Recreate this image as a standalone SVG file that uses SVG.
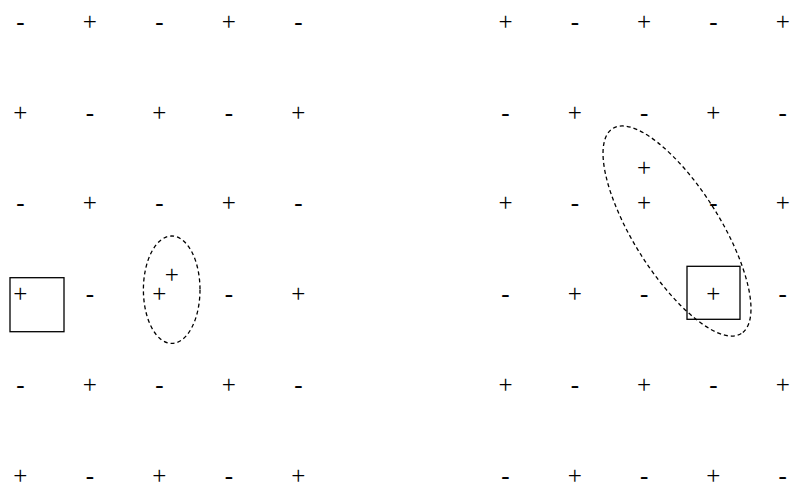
<svg xmlns="http://www.w3.org/2000/svg" width="790" height="484" viewBox="0 0 790 484">
<style>
text{font-family:"Liberation Serif","Times New Roman",serif;font-size:25px;fill:#000;text-anchor:middle}
.box{fill:none;stroke:#000;stroke-width:1.3}
.oval{fill:none;stroke:#000;stroke-width:1.3;stroke-dasharray:4 3}
</style>
<rect width="790" height="484" fill="#fff"/>
<g id="left-grid">
<text x="20.3" y="29.6">-</text><text x="89.8" y="29.6">+</text><text x="159.3" y="29.6">-</text><text x="228.8" y="29.6">+</text><text x="298.3" y="29.6">-</text>
<text x="20.3" y="120.5">+</text><text x="89.8" y="120.5">-</text><text x="159.3" y="120.5">+</text><text x="228.8" y="120.5">-</text><text x="298.3" y="120.5">+</text>
<text x="20.3" y="211.4">-</text><text x="89.8" y="211.4">+</text><text x="159.3" y="211.4">-</text><text x="228.8" y="211.4">+</text><text x="298.3" y="211.4">-</text>
<text x="20.3" y="302.3">+</text><text x="89.8" y="302.3">-</text><text x="159.3" y="302.3">+</text><text x="228.8" y="302.3">-</text><text x="298.3" y="302.3">+</text>
<text x="20.3" y="393.2">-</text><text x="89.8" y="393.2">+</text><text x="159.3" y="393.2">-</text><text x="228.8" y="393.2">+</text><text x="298.3" y="393.2">-</text>
<text x="20.3" y="483.5">+</text><text x="89.8" y="483.5">-</text><text x="159.3" y="483.5">+</text><text x="228.8" y="483.5">-</text><text x="298.3" y="483.5">+</text>
<text x="171.7" y="283">+</text>
</g>
<g id="right-grid">
<text x="505.5" y="29.6">+</text><text x="574.8" y="29.6">-</text><text x="644.1" y="29.6">+</text><text x="713.4" y="29.6">-</text><text x="782.7" y="29.6">+</text>
<text x="505.5" y="120.5">-</text><text x="574.8" y="120.5">+</text><text x="644.1" y="120.5">-</text><text x="713.4" y="120.5">+</text><text x="782.7" y="120.5">-</text>
<text x="505.5" y="211.4">+</text><text x="574.8" y="211.4">-</text><text x="644.1" y="211.4">+</text><text x="713.4" y="211.4">-</text><text x="782.7" y="211.4">+</text>
<text x="505.5" y="302.3">-</text><text x="574.8" y="302.3">+</text><text x="644.1" y="302.3">-</text><text x="713.4" y="302.3">+</text><text x="782.7" y="302.3">-</text>
<text x="505.5" y="393.2">+</text><text x="574.8" y="393.2">-</text><text x="644.1" y="393.2">+</text><text x="713.4" y="393.2">-</text><text x="782.7" y="393.2">+</text>
<text x="505.5" y="483.5">-</text><text x="574.8" y="483.5">+</text><text x="644.1" y="483.5">-</text><text x="713.4" y="483.5">+</text><text x="782.7" y="483.5">-</text>
<text x="644" y="175.6">+</text>
</g>
<g id="left-box"><rect class="box" x="10" y="277.7" width="54" height="54"/></g>
<g id="left-ellipse"><ellipse class="oval" cx="171.7" cy="289.7" rx="28.3" ry="53.7"/></g>
<g id="right-box"><rect class="box" x="687" y="266.3" width="53" height="53"/></g>
<g id="right-ellipse"><ellipse class="oval" cx="677" cy="231" rx="121" ry="43.2" transform="rotate(57.9 677 231)"/></g>
</svg>
